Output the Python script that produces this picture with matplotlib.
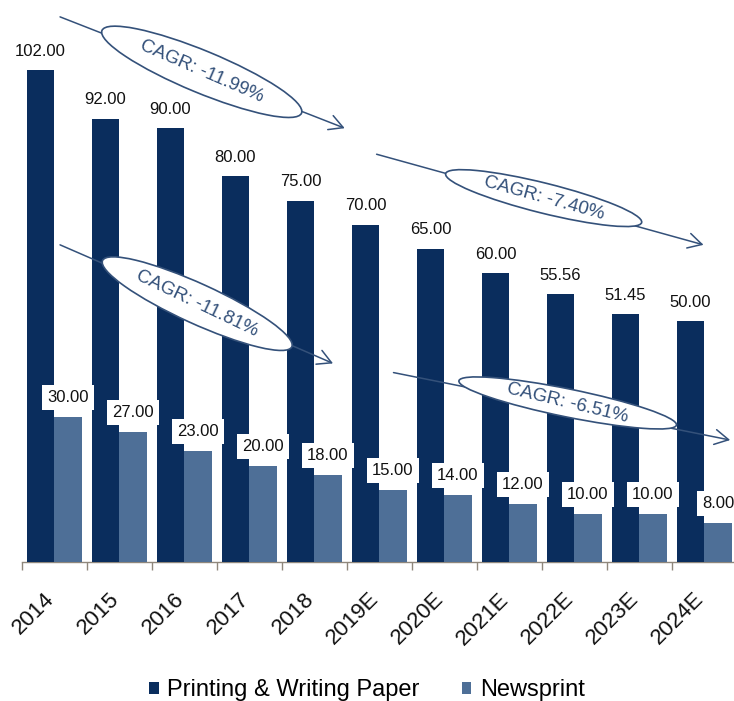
import matplotlib
matplotlib.use("Agg")
import matplotlib.pyplot as plt
import numpy as np
from matplotlib.patches import Ellipse
from matplotlib.transforms import ScaledTranslation

plt.rcParams['font.family'] = ['Liberation Sans', 'DejaVu Sans']

# ---- data ----
years = ["2014", "2015", "2016", "2017", "2018", "2019E",
         "2020E", "2021E", "2022E", "2023E", "2024E"]
printing_writing = [102.00, 92.00, 90.00, 80.00, 75.00, 70.00,
                    65.00, 60.00, 55.56, 51.45, 50.00]
newsprint = [30.00, 27.00, 23.00, 20.00, 18.00, 15.00,
             14.00, 12.00, 10.00, 10.00, 8.00]

series_names = ["Printing & Writing Paper", "Newsprint"]
cagr_labels = ["CAGR: -11.99%", "CAGR: -7.40%", "CAGR: -11.81%", "CAGR: -6.51%"]

# trend arrows (data coords): start and end points
arrow_starts = [(0.09, 113.1), (4.96, 84.6), (0.09, 65.8), (5.22, 39.3)]
arrow_ends = [(4.47, 90.0), (9.99, 65.8), (4.29, 41.2), (10.40, 25.3)]
# ellipse callouts: centre (data), semi-axes (px), tilt (deg)
ellipse_centers = [(2.27, 101.7), (7.53, 75.5), (2.20, 53.6), (7.90, 33.0)]
ellipse_axes = [(108, 21), (101, 15), (104, 20), (111, 14)]
ellipse_tilt = [22.5, 14.0, 24.5, 11.5]
text_tilt = [23.5, 15.5, 25.5, 13.5]

DARK = "#0a2d5d"
LIGHT = "#4e6f97"
CALLOUT = "#34517a"
AXIS = "#8f877c"

W, H, DPI = 734, 701, 100
fig = plt.figure(figsize=(W / DPI, H / DPI), dpi=DPI)
ax = fig.add_axes([21.7 / W, 139 / H, 715 / W, 562 / H])

x = np.arange(len(years))
bw = 0.423
b1 = ax.bar(x - bw / 2, printing_writing, bw, color=DARK, zorder=2,
            label=series_names[0])
b2 = ax.bar(x + bw / 2, newsprint, bw, color=LIGHT, zorder=2,
            label=series_names[1])

ax.set_xlim(-0.5, len(years) - 0.5)
ax.set_ylim(0, 116.6)

# value labels
for xi, v in zip(x, printing_writing):
    ax.annotate(f"{v:.2f}", (xi - bw / 2, v), xytext=(0, 13.5),
                textcoords="offset points", ha="center", va="center",
                fontsize=12, color="#111111", zorder=3)
for xi, v in zip(x, newsprint):
    ax.annotate(f"{v:.2f}", (xi + bw / 2, v), xytext=(0, 14),
                textcoords="offset points", ha="center", va="center",
                fontsize=12, color="#111111", zorder=3.5,
                bbox=dict(boxstyle="square,pad=0.3", fc="white", ec="none"))

# CAGR trend arrows with ellipse callouts
for lab, s, e, c, (a, b), et, tt in zip(cagr_labels, arrow_starts, arrow_ends,
                                        ellipse_centers, ellipse_axes,
                                        ellipse_tilt, text_tilt):
    ax.annotate("", xy=e, xytext=s, xycoords="data",
                arrowprops=dict(arrowstyle="->,head_length=0.55,head_width=0.3",
                                color=CALLOUT, lw=1.1, mutation_scale=18,
                                shrinkA=0, shrinkB=0),
                annotation_clip=False, zorder=4)
    trans = fig.dpi_scale_trans + ScaledTranslation(c[0], c[1], ax.transData)
    ell = Ellipse((0, 0), 2 * a / DPI, 2 * b / DPI, angle=-et,
                  transform=trans, fc="white", ec=CALLOUT, lw=1.2, zorder=5,
                  clip_on=False)
    ax.add_patch(ell)
    ax.text(c[0], c[1], lab, rotation=-tt, rotation_mode="anchor",
            ha="center", va="center", fontsize=13.5, color=CALLOUT, zorder=6)

# axes styling
for sp in ("left", "top", "right"):
    ax.spines[sp].set_visible(False)
ax.spines["bottom"].set_color(AXIS)
ax.spines["bottom"].set_linewidth(1.0)
ax.spines["bottom"].set_zorder(1)
ax.set_yticks([])
ax.set_xticks(x)
ax.set_xticklabels(years, rotation=45, ha="right", fontsize=16, color="#111111")
ax.set_xticks(np.arange(-0.5, len(years), 1), minor=True)
ax.tick_params(axis="x", which="major", length=0, pad=17)
ax.tick_params(axis="x", which="minor", length=6, color=AXIS, width=1.0,
               direction="out")
shift = ScaledTranslation(0.04, -0.03, fig.dpi_scale_trans)
for lbl in ax.get_xticklabels():
    lbl.set_transform(lbl.get_transform() + shift)

fig.legend(handles=[b1, b2], labels=series_names, loc="center",
           bbox_to_anchor=(0.5, 0.015), ncol=2, frameon=False, fontsize=17,
           handlelength=0.4, handleheight=0.4, handletextpad=0.35,
           columnspacing=1.8)

fig.savefig("out.png", dpi=DPI, facecolor="white")
